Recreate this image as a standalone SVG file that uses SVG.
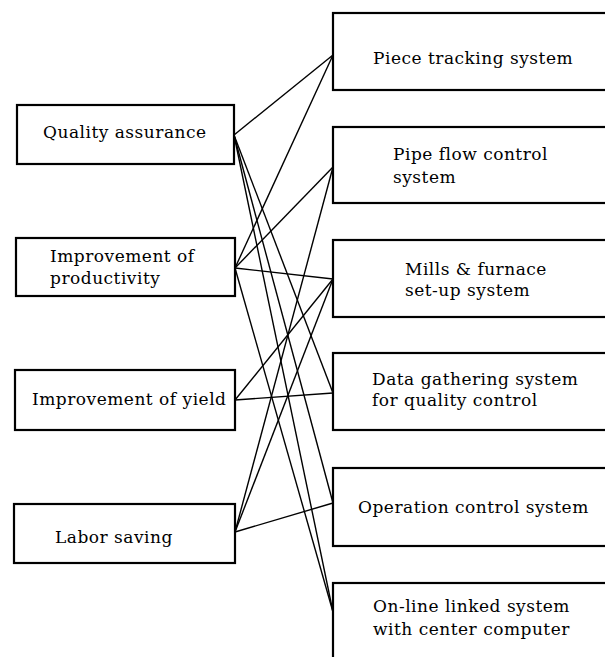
<svg xmlns="http://www.w3.org/2000/svg" width="605" height="657" viewBox="0 0 605 657">
  <style>
    .box { fill: #ffffff; stroke: #000000; stroke-width: 2.2; }
    .lbl { font-family: "DejaVu Serif", "Liberation Serif", serif; font-size: 17px; letter-spacing: 0.5px; fill: #000000; }
    .link { stroke: #000000; stroke-width: 1.4; fill: none; }
  </style>
  <rect x="0" y="0" width="605" height="657" fill="#ffffff"/>

  <!-- connectors: goals on the left, systems on the right -->
  <g id="connectors">
    <line class="link" x1="234" y1="135" x2="333" y2="55"/>
    <line class="link" x1="234" y1="135" x2="333" y2="393"/>
    <line class="link" x1="234" y1="135" x2="333" y2="503"/>
    <line class="link" x1="234" y1="135" x2="333" y2="612"/>
    <line class="link" x1="235" y1="268" x2="333" y2="55"/>
    <line class="link" x1="235" y1="268" x2="333" y2="167"/>
    <line class="link" x1="235" y1="268" x2="333" y2="279"/>
    <line class="link" x1="235" y1="268" x2="333" y2="612"/>
    <line class="link" x1="235" y1="400" x2="333" y2="279"/>
    <line class="link" x1="235" y1="400" x2="333" y2="393"/>
    <line class="link" x1="235" y1="532" x2="333" y2="167"/>
    <line class="link" x1="235" y1="532" x2="333" y2="279"/>
    <line class="link" x1="235" y1="532" x2="333" y2="503"/>
  </g>

  <!-- goals -->
  <g id="quality-assurance">
    <rect class="box" x="17" y="105" width="217" height="59"/>
    <text class="lbl" x="43" y="138">Quality assurance</text>
  </g>
  <g id="improvement-of-productivity">
    <rect class="box" x="16" y="238" width="219" height="58"/>
    <text class="lbl" x="50" y="262">Improvement of</text>
    <text class="lbl" x="50" y="284">productivity</text>
  </g>
  <g id="improvement-of-yield">
    <rect class="box" x="15" y="370" width="220" height="60"/>
    <text class="lbl" x="32" y="405">Improvement of yield</text>
  </g>
  <g id="labor-saving">
    <rect class="box" x="14" y="504" width="221" height="59"/>
    <text class="lbl" x="55" y="543">Labor saving</text>
  </g>

  <!-- systems -->
  <g id="piece-tracking-system">
    <rect class="box" x="333" y="13" width="280" height="77"/>
    <text class="lbl" x="373" y="64">Piece tracking system</text>
  </g>
  <g id="pipe-flow-control-system">
    <rect class="box" x="333" y="127" width="280" height="76"/>
    <text class="lbl" x="393" y="160">Pipe flow control</text>
    <text class="lbl" x="393" y="183">system</text>
  </g>
  <g id="mills-furnace-setup-system">
    <rect class="box" x="333" y="240" width="280" height="77"/>
    <text class="lbl" x="405" y="275">Mills &amp; furnace</text>
    <text class="lbl" x="405" y="296">set-up system</text>
  </g>
  <g id="data-gathering-system">
    <rect class="box" x="333" y="353" width="280" height="77"/>
    <text class="lbl" x="372" y="385">Data gathering system</text>
    <text class="lbl" x="372" y="406">for quality control</text>
  </g>
  <g id="operation-control-system">
    <rect class="box" x="333" y="468" width="280" height="78"/>
    <text class="lbl" x="358" y="513">Operation control system</text>
  </g>
  <g id="online-linked-system">
    <rect class="box" x="333" y="583" width="280" height="90"/>
    <text class="lbl" x="373" y="612">On-line linked system</text>
    <text class="lbl" x="373" y="635">with center computer</text>
  </g>
</svg>
